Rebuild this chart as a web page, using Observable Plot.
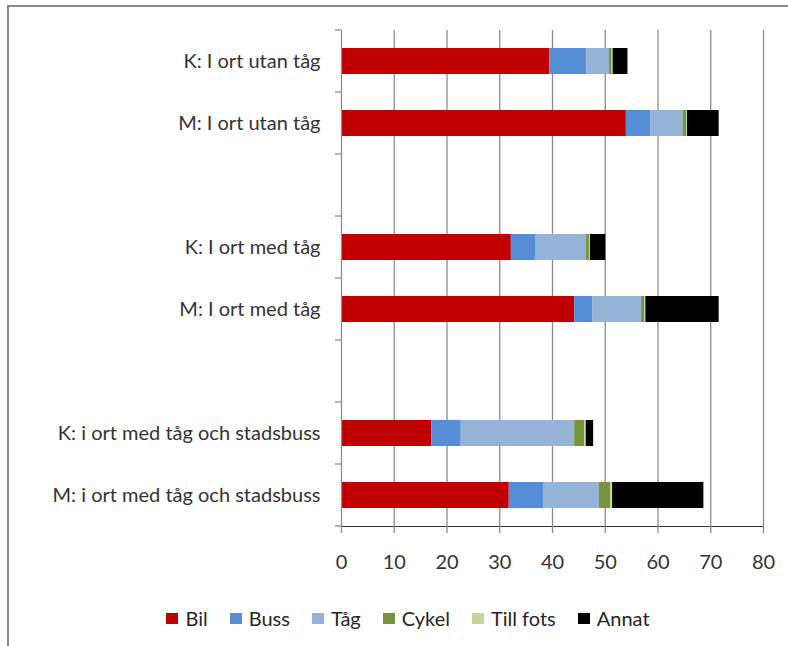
<!DOCTYPE html>
<html>
<head>
<meta charset="utf-8">
<script src="https://cdn.jsdelivr.net/npm/d3@7"></script>
<script src="https://cdn.jsdelivr.net/npm/@observablehq/plot@0.6"></script>
<style>
  html, body { margin: 0; padding: 0; background: #fff; overflow: hidden; }
  body { width: 788px; height: 646px; position: relative; font-family: Lato, "Open Sans", sans-serif; }
  #frame { position: absolute; left: 7px; top: 5px; width: 800px; height: 700px;
           border-left: 2px solid #8a8a8a; border-top: 2px solid #8a8a8a; pointer-events: none; }
  #chart svg { display: block; }
  #legend { display: flex; justify-content: center; align-items: center; height: 56px;
            padding-left: 28px; font-size: 20px; color: #262626; }
  .item { display: flex; align-items: center; margin-right: 22px; }
  .item:last-child { margin-right: 0; }
  .sw { width: 12px; height: 11px; margin-right: 7px; }
</style>
</head>
<body>
<div id="chart"></div>
<div id="legend"></div>
<div id="frame"></div>
<script>
// Categories top to bottom; the two blank entries are spacer rows between groups.
const categories = [
  "K: I ort utan tåg",
  "M: I ort utan tåg",
  "",
  "K: I ort med tåg",
  "M: I ort med tåg",
  " ",
  "K: i ort med tåg och stadsbuss",
  "M: i ort med tåg och stadsbuss"
];
const barCategories = [
  "K: I ort utan tåg",
  "M: I ort utan tåg",
  "K: I ort med tåg",
  "M: I ort med tåg",
  "K: i ort med tåg och stadsbuss",
  "M: i ort med tåg och stadsbuss"
];
const modes = ["Bil", "Buss", "Tåg", "Cykel", "Till fots", "Annat"];
const colors = ["#c00000", "#558ed5", "#95b3d7", "#77933c", "#c3d69b", "#000000"];

// Share per travel mode, one value per bar category
const bil      = [39.5, 54.0, 32.2, 44.2, 17.1, 31.8];
const buss     = [ 7.0,  4.7,  4.7,  3.4,  5.6,  6.6];
const tag      = [ 4.3,  6.1,  9.5,  9.3, 21.5, 10.5];
const cykel    = [ 0.5,  0.6,  0.6,  0.6,  1.9,  2.1];
const tillFots = [ 0.2,  0.2,  0.2,  0.2,  0.3,  0.4];
const annat    = [ 2.8,  6.0,  2.9, 13.9,  1.4, 17.3];

const xTicks = [0, 10, 20, 30, 40, 50, 60, 70, 80];

const series = [bil, buss, tag, cykel, tillFots, annat];
const rows = [];
barCategories.forEach((cat, i) => {
  modes.forEach((mode, j) => rows.push({cat, mode, value: series[j][i]}));
});

const gray = "#8c8c8c";

// Tick marks on the category axis, drawn at the boundaries between bands
function bandBoundaryTicks(index, scales, values, dims) {
  const y = scales.y;
  const x0 = dims.marginLeft;
  const g = d3.create("svg:g").attr("stroke", gray).attr("stroke-width", 1.3);
  const edges = categories.map(c => y(c));
  edges.push(y(categories[categories.length - 1]) + y.bandwidth());
  for (const e of edges) {
    g.append("line").attr("x1", x0 - 6).attr("x2", x0).attr("y1", e).attr("y2", e);
  }
  return g.node();
}

const chart = Plot.plot({
  width: 788,
  height: 590,
  marginLeft: 341,
  marginRight: 25,
  marginTop: 30,
  marginBottom: 64,
  style: {fontFamily: "Lato, 'Open Sans', sans-serif", color: "#333", background: "#fff"},
  x: {
    domain: [0, 80],
    ticks: xTicks,
    tickSize: 7,
    tickPadding: 21,
    label: null,
    line: true,
    fontSize: 20
  },
  y: {
    type: "band",
    domain: categories,
    padding: 0,
    tickSize: 0,
    tickPadding: 21,
    label: null,
    fontSize: 20
  },
  color: {domain: modes, range: colors},
  marks: [
    Plot.ruleX(xTicks.filter(d => d > 0), {stroke: gray, strokeWidth: 1.3}),
    Plot.barX(rows, {
      x: "value",
      y: "cat",
      fill: "mode",
      insetTop: 18,
      insetBottom: 18,
      inset: 0
    }),
    Plot.ruleX([0], {stroke: gray, strokeWidth: 1.3}),
    bandBoundaryTicks
  ]
});

// Style axis text and lines
d3.select(chart).selectAll("text").style("font-size", "20px").attr("fill", "#333");
d3.select(chart).selectAll("[aria-label='x-axis'] path, [aria-label='x-axis tick'] path, [aria-label='x-axis line'] path")
  .attr("stroke", gray).attr("stroke-width", 1.3);
d3.select(chart).selectAll("[aria-label='x-axis'] line, [aria-label='x-axis tick'], [aria-label='x-axis line']")
  .attr("stroke", gray);

document.getElementById("chart").appendChild(chart);

// Legend below the chart
const legend = d3.select("#legend");
modes.forEach((m, i) => {
  const item = legend.append("div").attr("class", "item");
  item.append("div").attr("class", "sw").style("background", colors[i]);
  item.append("span").text(m);
});
</script>
</body>
</html>
